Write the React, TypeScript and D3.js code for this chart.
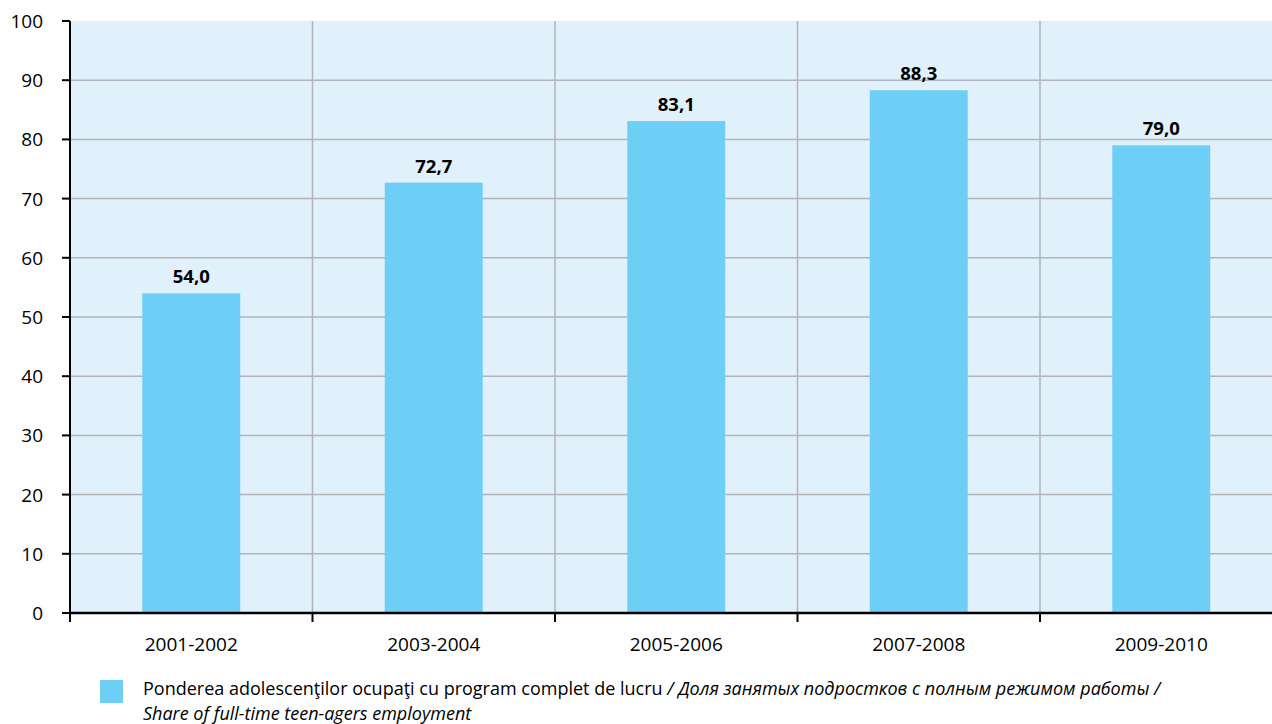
import React from "react";
import * as d3 from "d3";

const categories = ["2001-2002", "2003-2004", "2005-2006", "2007-2008", "2009-2010"];
const values = [54.0, 72.7, 83.1, 88.3, 79.0];
const valueLabels = ["54,0", "72,7", "83,1", "88,3", "79,0"];
const yTicks = [0, 10, 20, 30, 40, 50, 60, 70, 80, 90, 100];

const W = 1272;
const H = 724;
const left = 70;
const top = 21;
const bottom = 613;
const right = 1282.5;
const font = "'Open Sans', 'Noto Sans', sans-serif";

export default function App() {
  const x = d3.scaleBand<string>().domain(categories).range([left, right]).padding(0);
  const y = d3.scaleLinear().domain([0, 100]).range([bottom, top]);
  const bw = x.bandwidth() * 0.404;
  const boundaries = d3.range(categories.length + 1).map((i) => left + i * x.step());

  return (
    <svg width={W} height={H} style={{ position: "absolute", left: 0, top: 0 }} fontFamily={font}>
      <rect x={left} y={top} width={right - left} height={bottom - top} fill="#E0F1FB" />
      {yTicks.filter((t) => t > 0 && t < 100).map((t) => (
        <line key={"g" + t} x1={left} x2={right} y1={y(t)} y2={y(t)} stroke="#B2B4B7" strokeWidth={1.5} />
      ))}
      {boundaries.slice(1, -1).map((b, i) => (
        <line key={"v" + i} x1={b} x2={b} y1={top} y2={bottom} stroke="#B2B4B7" strokeWidth={1.5} />
      ))}
      {categories.map((c, i) => {
        const cx = (x(c) as number) + x.bandwidth() / 2;
        return (
          <g key={c}>
            <rect x={cx - bw / 2} y={y(values[i])} width={bw} height={bottom - y(values[i])} fill="#6DCFF6" />
            <text x={cx} y={y(values[i]) - 10} textAnchor="middle" fontSize={18.5} fontWeight="bold" fill="#000">
              {valueLabels[i]}
            </text>
            <text x={cx} y={651} textAnchor="middle" fontSize={19} fill="#000">
              {c}
            </text>
          </g>
        );
      })}
      {/* y axis */}
      <line x1={left} x2={left} y1={top} y2={bottom + 1} stroke="#000" strokeWidth={2} />
      {yTicks.map((t) => (
        <g key={"t" + t}>
          <line x1={62} x2={left} y1={y(t)} y2={y(t)} stroke="#000" strokeWidth={2} />
          <text x={43} y={y(t) + 7} textAnchor="end" fontSize={19} fill="#000">
            {t}
          </text>
        </g>
      ))}
      {/* x axis */}
      <line x1={left - 1} x2={right} y1={bottom} y2={bottom} stroke="#000" strokeWidth={2.5} />
      {boundaries.map((b, i) => (
        <line key={"xt" + i} x1={b} x2={b} y1={bottom} y2={622} stroke="#000" strokeWidth={2} />
      ))}
      {/* legend */}
      <rect x={100} y={680} width={23} height={23} fill="#6DCFF6" />
      <text x={143} y={695} fontSize={18} fill="#000">
        <tspan>Ponderea adolescenţilor ocupaţi cu program complet de lucru </tspan>
        <tspan fontStyle="italic">/ Доля занятых подростков с полным режимом работы /</tspan>
      </text>
      <text x={143} y={720} fontSize={18} fontStyle="italic" fill="#000">
        Share of full-time teen-agers employment
      </text>
    </svg>
  );
}
